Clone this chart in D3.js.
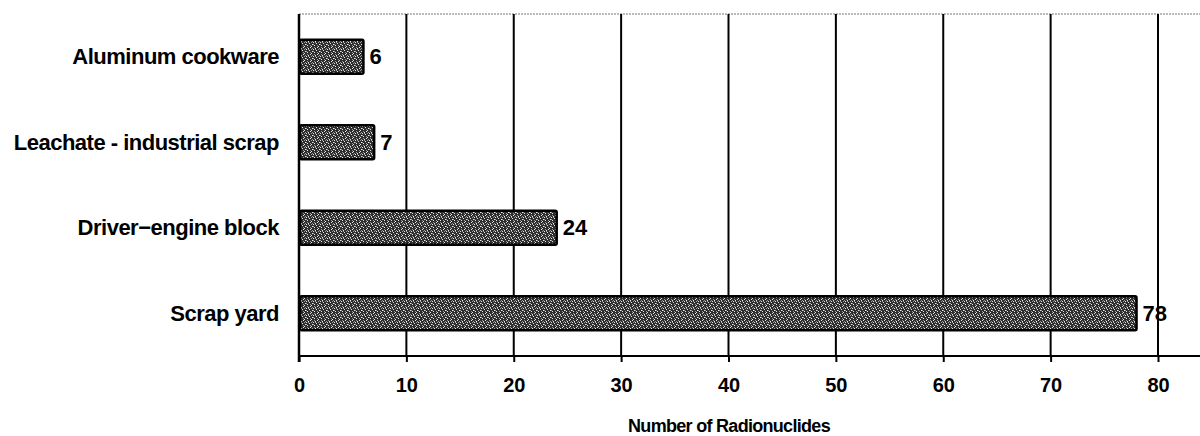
<!DOCTYPE html>
<html>
<head>
<meta charset="utf-8">
<script src="https://cdn.jsdelivr.net/npm/d3@7"></script>
<style>
  body { margin: 0; background: #fff; }
  text { font-family: "Liberation Sans", Arial, sans-serif; font-weight: bold; }
</style>
</head>
<body>
<svg id="chart"></svg>
<script>
// data
const categories = ["Aluminum cookware", "Leachate - industrial scrap", "Driver\u2212engine block", "Scrap yard"];
const counts = [6, 7, 24, 78];
const xTicks = [0, 10, 20, 30, 40, 50, 60, 70, 80];
const xTitle = "Number of Radionuclides";

const data = categories.map((c, i) => ({ name: c, value: counts[i] }));

const config = {
  containerWidth: 1200,
  containerHeight: 436,
  margin: { top: 14, bottom: 80, right: -66, left: 299 }
};

const width = config.containerWidth - config.margin.left - config.margin.right;
const height = config.containerHeight - config.margin.top - config.margin.bottom;

const svg = d3.select('#chart')
    .attr('width', config.containerWidth)
    .attr('height', config.containerHeight);

// speckled fill like the scanned bars
const defs = svg.append('defs');
const pat = defs.append('pattern')
    .attr('id', 'speckle')
    .attr('patternUnits', 'userSpaceOnUse')
    .attr('width', 7)
    .attr('height', 7);
pat.append('rect').attr('width', 7).attr('height', 7).attr('fill', '#2e2e2e');
[[0,0],[3,1],[1,3],[5,4],[6,2],[2,6],[4,5]].forEach(([px, py]) => {
  pat.append('rect').attr('x', px).attr('y', py).attr('width', 1).attr('height', 1).attr('fill', '#e6e6e6');
});
[[2,0],[0,2],[4,3],[1,5],[6,6],[5,0]].forEach(([px, py]) => {
  pat.append('rect').attr('x', px).attr('y', py).attr('width', 1).attr('height', 1).attr('fill', '#999');
});

const chart = svg.append('g')
    .attr('transform', `translate(${config.margin.left},${config.margin.top})`);

const xScale = d3.scaleLinear()
    .domain([0, 80])
    .range([0, 859]);

const yScale = d3.scaleBand()
    .domain(categories)
    .range([0, height])
    .paddingInner(0.6)
    .paddingOuter(0.3);

// top border (dotted)
chart.append('line')
    .attr('x1', 0).attr('x2', width)
    .attr('y1', 0).attr('y2', 0)
    .attr('stroke', '#777')
    .attr('stroke-width', 1.2)
    .attr('stroke-dasharray', '2,1');

// gridlines
chart.selectAll('.grid')
    .data(xTicks.filter(d => d > 0))
    .join('line')
      .attr('class', 'grid')
      .attr('x1', d => xScale(d)).attr('x2', d => xScale(d))
      .attr('y1', 0).attr('y2', height)
      .attr('stroke', '#000')
      .attr('stroke-width', 2);

// x axis
const xAxis = d3.axisBottom(xScale)
    .tickValues(xTicks)
    .tickSize(6)
    .tickPadding(16)
    .tickFormat(d3.format('d'));

const xAxisG = chart.append('g')
    .attr('transform', `translate(0,${height})`)
    .call(xAxis);
xAxisG.select('.domain').remove();
xAxisG.append('line')
    .attr('x1', 0).attr('x2', width)
    .attr('stroke', '#000').attr('stroke-width', 2);
xAxisG.selectAll('.tick line').attr('stroke', '#000').attr('stroke-width', 2);
xAxisG.selectAll('.tick text')
    .attr('fill', '#000')
    .style('font-size', '20px');

// y axis line
chart.append('line')
    .attr('x1', 0).attr('x2', 0)
    .attr('y1', 0).attr('y2', height + 6)
    .attr('stroke', '#000').attr('stroke-width', 2.5);

// category labels
chart.selectAll('.cat')
    .data(data)
    .join('text')
      .attr('class', 'cat')
      .attr('x', -20)
      .attr('y', d => yScale(d.name) + yScale.bandwidth() / 2)
      .attr('dy', '0.35em')
      .attr('text-anchor', 'end')
      .attr('letter-spacing', '-0.5px')
      .style('font-size', '22px')
      .text(d => d.name);

// bars
chart.selectAll('.bar')
    .data(data)
    .join('rect')
      .attr('class', 'bar')
      .attr('x', xScale(0) + 1)
      .attr('y', d => yScale(d.name))
      .attr('width', d => xScale(d.value) - xScale(0) - 1)
      .attr('height', yScale.bandwidth())
      .attr('rx', 1.5)
      .attr('fill', 'url(#speckle)')
      .attr('stroke', '#000')
      .attr('stroke-width', 2.5);

// value labels
chart.selectAll('.val')
    .data(data)
    .join('text')
      .attr('class', 'val')
      .attr('x', d => xScale(d.value) + 6)
      .attr('y', d => yScale(d.name) + yScale.bandwidth() / 2)
      .attr('dy', '0.35em')
      .style('font-size', '22px')
      .text(d => d.value);

// x axis title
svg.append('text')
    .attr('x', 729)
    .attr('y', 426)
    .attr('dy', '0.35em')
    .attr('text-anchor', 'middle')
    .attr('letter-spacing', '-0.7px')
    .style('font-size', '18px')
    .text(xTitle);
</script>
</body>
</html>
